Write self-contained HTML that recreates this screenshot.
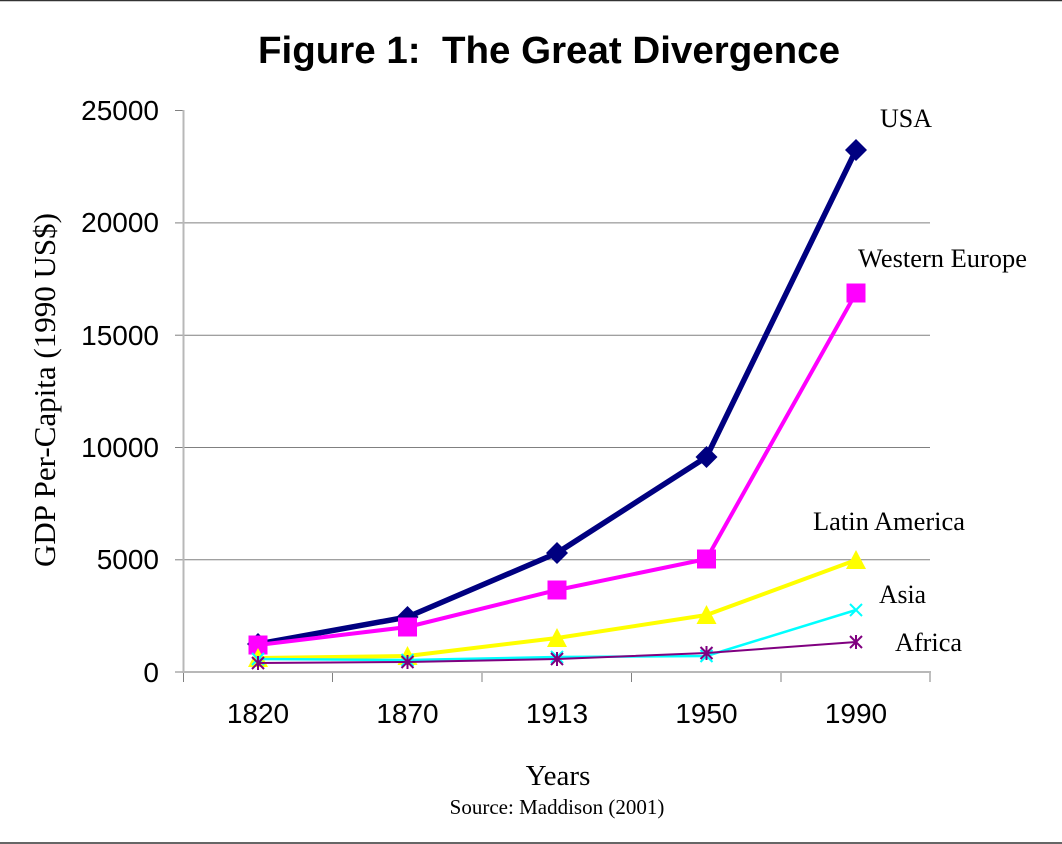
<!DOCTYPE html>
<html><head><meta charset="utf-8"><style>
html,body{margin:0;padding:0;background:#fff;}
svg{display:block;}
</style></head><body>
<svg width="1062" height="844" viewBox="0 0 1062 844" xmlns="http://www.w3.org/2000/svg">
<rect x="0" y="0" width="1062" height="844" fill="#fff"/>
<line x1="0" y1="0.5" x2="1062" y2="0.5" stroke="#333" stroke-width="1.5"/>
<line x1="0" y1="843" x2="1062" y2="843" stroke="#333" stroke-width="1.5"/>

<text x="549" y="63" font-family="Liberation Sans, Arial, sans-serif" font-weight="bold" font-size="38" text-anchor="middle" textLength="582" lengthAdjust="spacingAndGlyphs">Figure 1:&#160; The Great Divergence</text>

<!-- gridlines -->
<g stroke="#808080" stroke-width="1">
<line x1="183" y1="222.9" x2="930" y2="222.9"/>
<line x1="183" y1="335.2" x2="930" y2="335.2"/>
<line x1="183" y1="447.5" x2="930" y2="447.5"/>
<line x1="183" y1="559.8" x2="930" y2="559.8"/>
<!-- y ticks -->
<line x1="175" y1="110.5" x2="183" y2="110.5"/>
<line x1="175" y1="222.9" x2="183" y2="222.9"/>
<line x1="175" y1="335.2" x2="183" y2="335.2"/>
<line x1="175" y1="447.5" x2="183" y2="447.5"/>
<line x1="175" y1="559.8" x2="183" y2="559.8"/>
<line x1="175" y1="672" x2="183" y2="672"/>
<!-- x ticks -->
<line x1="183.5" y1="672" x2="183.5" y2="682"/>
<line x1="332.5" y1="672" x2="332.5" y2="682"/>
<line x1="482" y1="672" x2="482" y2="682"/>
<line x1="631.5" y1="672" x2="631.5" y2="682"/>
<line x1="781" y1="672" x2="781" y2="682"/>
<line x1="930" y1="672" x2="930" y2="682"/>
</g>
<line x1="183.5" y1="110" x2="183.5" y2="673" stroke="#b8b8b8" stroke-width="2"/>
<line x1="182" y1="672" x2="931" y2="672" stroke="#b8b8b8" stroke-width="2"/>

<!-- y tick labels -->
<g font-family="Liberation Sans, Arial, sans-serif" font-size="28" text-anchor="end" fill="#000">
<text x="159" y="120">25000</text>
<text x="159" y="232">20000</text>
<text x="159" y="345">15000</text>
<text x="159" y="457">10000</text>
<text x="159" y="569">5000</text>
<text x="159" y="682">0</text>
</g>
<!-- x tick labels -->
<g font-family="Liberation Sans, Arial, sans-serif" font-size="28" text-anchor="middle" fill="#000">
<text x="258" y="723">1820</text>
<text x="407.5" y="723">1870</text>
<text x="557" y="723">1913</text>
<text x="706.5" y="723">1950</text>
<text x="856" y="723">1990</text>
</g>

<text transform="translate(55,390) rotate(-90)" font-family="Liberation Serif, 'Times New Roman', serif" font-size="31" text-anchor="middle" textLength="354" lengthAdjust="spacingAndGlyphs">GDP Per-Capita (1990 US$)</text>
<text x="558" y="785" font-family="Liberation Serif, 'Times New Roman', serif" font-size="29" text-anchor="middle">Years</text>
<text x="557" y="814" font-family="Liberation Serif, 'Times New Roman', serif" font-size="21" text-anchor="middle">Source: Maddison (2001)</text>

<!-- USA -->
<polyline points="258,644 407.5,617 557,553 706.5,457 856,150" fill="none" stroke="#000080" stroke-width="5.5" stroke-linejoin="round"/>
<g fill="#000080">
<polygon points="258,633 269,644 258,655 247,644"/>
<polygon points="407.5,606 418.5,617 407.5,628 396.5,617"/>
<polygon points="557,542 568,553 557,564 546,553"/>
<polygon points="706.5,446 717.5,457 706.5,468 695.5,457"/>
<polygon points="856,139 867,150 856,161 845,150"/>
</g>
<!-- Western Europe -->
<polyline points="258,645 407.5,627 557,590 706.5,559 856,293" fill="none" stroke="#FF00FF" stroke-width="4" stroke-linejoin="round"/>
<g fill="#FF00FF">
<rect x="248.5" y="635.5" width="19" height="19"/>
<rect x="398" y="617.5" width="19" height="19"/>
<rect x="547.5" y="580.5" width="19" height="19"/>
<rect x="697" y="549.5" width="19" height="19"/>
<rect x="846.5" y="283.5" width="19" height="19"/>
</g>
<!-- Latin America -->
<polyline points="258,658 407.5,656 557,638 706.5,615 856,560" fill="none" stroke="#FFFF00" stroke-width="4" stroke-linejoin="round"/>
<g fill="#FFFF00">
<polygon points="258,648 268,667 248,667"/>
<polygon points="407.5,646 417.5,665 397.5,665"/>
<polygon points="557,628 567,647 547,647"/>
<polygon points="706.5,605 716.5,624 696.5,624"/>
<polygon points="856,550 866,569 846,569"/>
</g>
<!-- Asia -->
<polyline points="258,659 407.5,660 557,657 706.5,656 856,610" fill="none" stroke="#00FFFF" stroke-width="2.5" stroke-linejoin="round"/>
<g stroke="#00FFFF" stroke-width="2">
<path d="M252,653 L264,665 M264,653 L252,665"/>
<path d="M401.5,654 L413.5,666 M413.5,654 L401.5,666"/>
<path d="M551,651 L563,663 M563,651 L551,663"/>
<path d="M700.5,650 L712.5,662 M712.5,650 L700.5,662"/>
<path d="M850,604 L862,616 M862,604 L850,616"/>
</g>
<!-- Africa -->
<polyline points="258,663 407.5,662 557,659 706.5,653 856,642" fill="none" stroke="#800080" stroke-width="2" stroke-linejoin="round"/>
<g stroke="#800080" stroke-width="2">
<path d="M252,657 L264,669 M264,657 L252,669 M258,656 L258,670"/>
<path d="M401.5,656 L413.5,668 M413.5,656 L401.5,668 M407.5,655 L407.5,669"/>
<path d="M551,653 L563,665 M563,653 L551,665 M557,652 L557,666"/>
<path d="M700.5,647 L712.5,659 M712.5,647 L700.5,659 M706.5,646 L706.5,660"/>
<path d="M850,636 L862,648 M862,636 L850,648 M856,635 L856,649"/>
</g>

<!-- series labels -->
<g font-family="Liberation Serif, 'Times New Roman', serif" font-size="26" fill="#000">
<text x="880" y="127" textLength="52" lengthAdjust="spacingAndGlyphs">USA</text>
<text x="858" y="267" textLength="169" lengthAdjust="spacingAndGlyphs">Western Europe</text>
<text x="813" y="530" textLength="152" lengthAdjust="spacingAndGlyphs">Latin America</text>
<text x="879" y="603" textLength="47" lengthAdjust="spacingAndGlyphs">Asia</text>
<text x="895" y="651" textLength="67" lengthAdjust="spacingAndGlyphs">Africa</text>
</g>
</svg>
</body></html>
